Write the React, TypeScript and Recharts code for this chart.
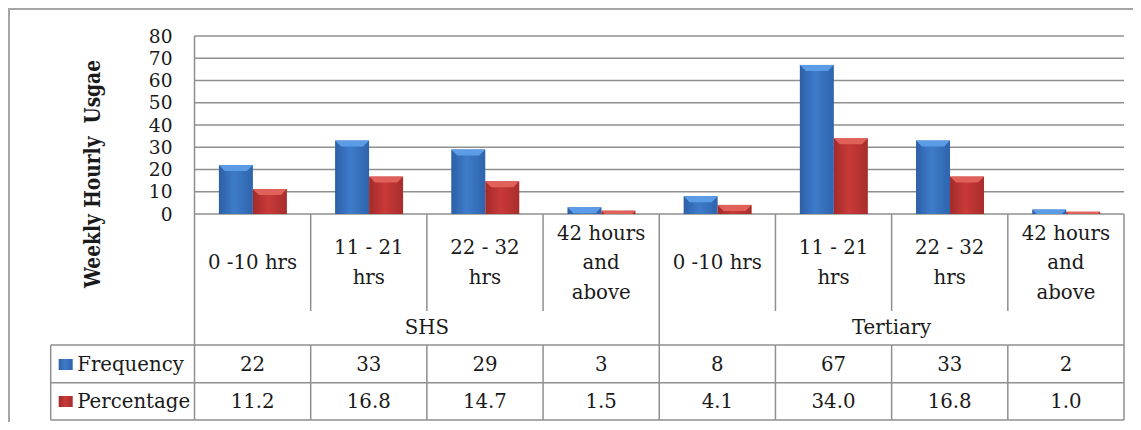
import { BarChart, Bar, XAxis, YAxis, CartesianGrid } from "recharts";

const groups = ["SHS", "Tertiary"];
const hourBands = [["0 -10 hrs"], ["11 - 21", "hrs"], ["22 - 32", "hrs"], ["42 hours", "and", "above"]];
const frequency = [22, 33, 29, 3, 8, 67, 33, 2];
const percentage = [11.2, 16.8, 14.7, 1.5, 4.1, 34.0, 16.8, 1.0];
const yTicks = [0, 10, 20, 30, 40, 50, 60, 70, 80];
const yTitle = "Weekly Hourly  Usgae";

const data = frequency.map((f, i) => ({
  id: `${groups[Math.floor(i / hourBands.length)]} ${hourBands[i % hourBands.length].join(" ")}`,
  group: groups[Math.floor(i / hourBands.length)],
  lines: hourBands[i % hourBands.length],
  frequency: f,
  percentage: percentage[i],
}));

const LINE = "#8f8f8f";
const INK = "#1a1a1a";
// only serif face that resolves in the sandbox; squeezed a bit to get Times-like widths
const FONT = "DejaVu Serif";

function T({ x, y, size = 21, sx = 0.94, anchor = "middle", weight = "normal", children }: any) {
  return (
    <text
      x={0}
      y={0}
      transform={`translate(${x},${y}) scale(${sx},1)`}
      textAnchor={anchor}
      dominantBaseline="central"
      fill={INK}
      fontFamily={FONT}
      fontSize={size}
      fontWeight={weight}
    >
      {children}
    </text>
  );
}

function YTick({ x, y, payload }: any) {
  return <T x={x} y={y} size={19} sx={0.98} anchor="end">{payload.value}</T>;
}

function YTitle() {
  return (
    <text
      transform="translate(84,166) rotate(-90)"
      textAnchor="middle"
      dominantBaseline="central"
      fill={INK}
      fontFamily={FONT}
      fontSize={22}
      fontWeight="bold"
      textLength={228}
      lengthAdjust="spacingAndGlyphs"
      style={{ whiteSpace: "pre" }}
    >
      {yTitle}
    </text>
  );
}

function TableTick({ x, y, payload, index }: any) {
  const i = payload.index ?? index;
  const half = payload.offset || 58.1;
  const left = x - half;
  const right = x + half;
  const top = y;
  const groupRow = top + 131;
  const freqRow = top + 168.7;
  const pctRow = top + 206;
  const d = data[i];
  const n = hourBands.length;
  const lastInGroup = i % n === n - 1;
  const lines: string[] = d.lines;
  const lh = 29.5;
  const mid = top + 48;
  const legendLeft = left - 143.8;

  return (
    <g>
      {lines.map((t, k) => (
        <T key={k} x={x} y={mid + (k - (lines.length - 1) / 2) * lh}>{t}</T>
      ))}
      <T x={x} y={top + 150}>{d.frequency}</T>
      <T x={x} y={top + 187}>{d.percentage.toFixed(1)}</T>
      {i % n === 0 && (
        <T x={left + half * n} y={top + 113}>{d.group}</T>
      )}
      {lastInGroup ? (
        <line x1={right} x2={right} y1={top} y2={pctRow} stroke={LINE} strokeWidth={1.5} />
      ) : (
        <>
          <line x1={right} x2={right} y1={top} y2={top + 97} stroke={LINE} strokeWidth={1.5} />
          <line x1={right} x2={right} y1={groupRow} y2={pctRow} stroke={LINE} strokeWidth={1.5} />
        </>
      )}
      <line x1={left} x2={right} y1={groupRow} y2={groupRow} stroke={LINE} strokeWidth={1.5} />
      <line x1={left} x2={right} y1={freqRow} y2={freqRow} stroke={LINE} strokeWidth={1.5} />
      <line x1={left} x2={right} y1={pctRow} y2={pctRow} stroke={LINE} strokeWidth={1.5} />
      {i === 0 && (
        <>
          <line x1={left} x2={left} y1={top} y2={pctRow} stroke={LINE} strokeWidth={1.5} />
          <line x1={legendLeft} x2={legendLeft} y1={groupRow} y2={pctRow} stroke={LINE} strokeWidth={1.5} />
          <line x1={legendLeft} x2={left} y1={groupRow} y2={groupRow} stroke={LINE} strokeWidth={1.5} />
          <line x1={legendLeft} x2={left} y1={freqRow} y2={freqRow} stroke={LINE} strokeWidth={1.5} />
          <line x1={legendLeft} x2={left} y1={pctRow} y2={pctRow} stroke={LINE} strokeWidth={1.5} />
          <rect x={legendLeft + 8} y={top + 145} width={14} height={11} fill="url(#blueGrad)" />
          <rect x={legendLeft + 8} y={top + 182} width={14} height={11} fill="url(#redGrad)" />
          <T x={legendLeft + 26.5} y={top + 150} anchor="start">Frequency</T>
          <T x={legendLeft + 26.5} y={top + 187} anchor="start">Percentage</T>
        </>
      )}
    </g>
  );
}

function BevelBar({ x, y, width, height, grad, top }: any) {
  if (!height || height <= 0) return null;
  const b = Math.min(6, height);
  return (
    <g>
      <rect x={x} y={y} width={width} height={height} fill={`url(#${grad})`} />
      <polygon
        points={`${x},${y} ${x + width},${y} ${x + width - b},${y + b} ${x + b},${y + b}`}
        fill={top}
      />
    </g>
  );
}

export default function App() {
  return (
    <div style={{ position: "relative", width: 1133, height: 414 }}>
      <div
        style={{
          position: "absolute",
          left: 0,
          top: 0,
          width: 1133,
          height: 414,
          borderTop: "2px solid #a6a6a6",
          borderLeft: "2px solid #a6a6a6",
          boxSizing: "border-box",
        }}
      />
      <div style={{ position: "absolute", left: 0, top: 0 }}>
        <BarChart
          width={1133}
          height={414}
          data={data}
          margin={{ top: 28, right: 17, left: 0, bottom: 0 }}
          barCategoryGap="21%"
          barGap={0}
        >
          <defs>
            <linearGradient id="blueGrad" x1="0" y1="0" x2="1" y2="0">
              <stop offset="0%" stopColor="#2d5fa6" />
              <stop offset="45%" stopColor="#3d7cca" />
              <stop offset="100%" stopColor="#2f63ad" />
            </linearGradient>
            <linearGradient id="redGrad" x1="0" y1="0" x2="1" y2="0">
              <stop offset="0%" stopColor="#a32a2a" />
              <stop offset="45%" stopColor="#c83a38" />
              <stop offset="100%" stopColor="#a82d2c" />
            </linearGradient>
          </defs>
          <CartesianGrid vertical={false} stroke={LINE} strokeWidth={1.5} />
          <YAxis
            width={186.5}
            domain={[0, 80]}
            ticks={yTicks}
            interval={0}
            tickLine={false}
            tickSize={0}
            tickMargin={22}
            axisLine={{ stroke: LINE, strokeWidth: 1.5 }}
            tick={<YTick />}
            label={<YTitle />}
          />
          <XAxis
            dataKey="id"
            height={208}
            axisLine={false}
            tickLine={false}
            tickSize={0}
            tickMargin={0}
            interval={0}
            tick={<TableTick />}
          />
          <Bar
            dataKey="frequency"
            isAnimationActive={false}
            shape={(p: any) => <BevelBar {...p} grad="blueGrad" top="#5c9ce6" />}
          />
          <Bar
            dataKey="percentage"
            isAnimationActive={false}
            shape={(p: any) => <BevelBar {...p} grad="redGrad" top="#e0605a" />}
          />
        </BarChart>
      </div>
    </div>
  );
}
